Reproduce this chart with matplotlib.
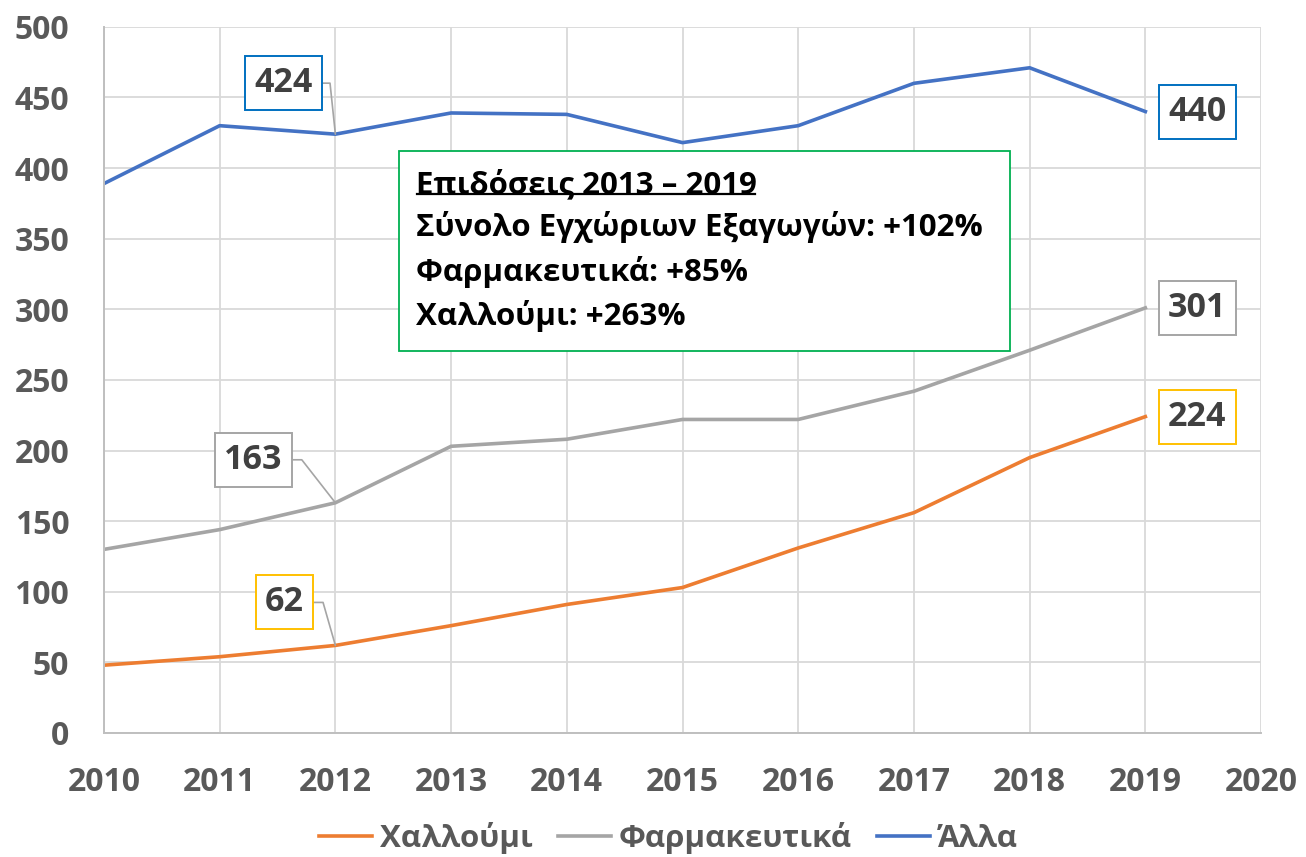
import matplotlib
matplotlib.use("Agg")
import matplotlib.pyplot as plt
from matplotlib.patches import Rectangle
from matplotlib.path import Path

plt.rcParams['font.family'] = ['Open Sans', 'DejaVu Sans']
plt.rcParams['font.weight'] = 'bold'

years = [2010, 2011, 2012, 2013, 2014, 2015, 2016, 2017, 2018, 2019]
halloumi = [48, 54, 62, 76, 91, 103, 131, 156, 195, 224]
pharma = [130, 144, 163, 203, 208, 222, 222, 242, 271, 301]
other = [389, 430, 424, 439, 438, 418, 430, 460, 471, 440]

series_names = ['Χαλλούμι', 'Φαρμακευτικά', 'Άλλα']
colors = ['#ED7D31', '#A5A5A5', '#4472C4']
box_colors = ['#FFC000', '#A5A5A5', '#0070C0']

info_lines = ['Επιδόσεις 2013 – 2019',
              'Σύνολο Εγχώριων Εξαγωγών: +102%',
              'Φαρμακευτικά: +85%',
              'Χαλλούμι: +263%']

fig = plt.figure(figsize=(13.06, 8.57), dpi=100)
ax = fig.add_axes([0.0796, 0.1447, 0.886, 0.824])

all_series = [halloumi, pharma, other]
for vals, name, c in zip(all_series, series_names, colors):
    ax.plot(years, vals, color=c, lw=2.6, label=name, solid_joinstyle='round')

ax.set_xlim(2010, 2020)
ax.set_ylim(0, 500)
ax.set_xticks(range(2010, 2021))
ax.set_yticks(range(0, 501, 50))
ax.grid(True, color='#D9D9D9', lw=1.3)
ax.set_axisbelow(True)
for side in ['top', 'right']:
    ax.spines[side].set_visible(False)
for side in ['left', 'bottom']:
    ax.spines[side].set_color('#BFBFBF')
    ax.spines[side].set_linewidth(1.4)
ax.tick_params(length=0, labelsize=23, labelcolor='#595959')
ax.tick_params(axis='x', pad=24)
ax.tick_params(axis='y', pad=25)
for lab in ax.get_xticklabels() + ax.get_yticklabels():
    lab.set_fontweight('bold')


# label box: fixed height around the text centre (Excel-like)
def label_box(x0, y0, width, height, mutation_size):
    cx, cy = x0 + width / 2, y0 + height / 2
    w, h = width + 0.55 * mutation_size, 54
    return Path([(cx - w / 2, cy - h / 2), (cx + w / 2, cy - h / 2), (cx + w / 2, cy + h / 2),
                 (cx - w / 2, cy + h / 2), (cx - w / 2, cy - h / 2)], closed=True)


def label(vals, i, ec, off, angB, leader=True):
    kw = dict(xy=(years[i], vals[i]), xytext=off, textcoords='offset pixels',
              ha='center', va='center', fontsize=24.5, fontweight='bold', color='#404040',
              bbox=dict(boxstyle=label_box, fc='white', ec=ec, lw=1.4))
    if leader:
        kw['arrowprops'] = dict(arrowstyle='-', color='#A5A5A5', lw=1.2, shrinkA=0, shrinkB=0,
                                connectionstyle='angle,angleA=0,angleB=%d,rad=0' % angB)
    ax.annotate(str(vals[i]), **kw)


label(other, 2, box_colors[2], (-52, 51), 96)
label(pharma, 2, box_colors[1], (-82, 43), 128)
label(halloumi, 2, box_colors[0], (-51, 43), 106)
label(other, 9, box_colors[2], (52, 0), 0, leader=False)
label(pharma, 9, box_colors[1], (52, 0), 0, leader=False)
label(halloumi, 9, box_colors[0], (52, 0), 0, leader=False)

# info box
ax.add_patch(Rectangle((0.255, 0.541), 0.528, 0.283, transform=ax.transAxes,
                       fill=True, fc='white', ec='#00B050', lw=1.3, zorder=4))
ys = [0.776, 0.716, 0.653, 0.590]
texts = []
for t, yy in zip(info_lines, ys):
    texts.append(ax.text(0.2697, yy, t, transform=ax.transAxes, fontsize=22.5,
                         fontweight='bold', color='black', va='center', zorder=5))

fig.canvas.draw()
bb = texts[0].get_window_extent().transformed(ax.transAxes.inverted())
ax.plot([bb.x0 + 0.001, bb.x1 - 0.002], [bb.y0 + 0.009, bb.y0 + 0.009], transform=ax.transAxes,
        color='black', lw=1.6, zorder=5)

fig.legend(loc='center', ncol=3, frameon=False,
           bbox_to_anchor=(0.512, 0.022), handlelength=1.7, handletextpad=0.25,
           columnspacing=0.8, labelcolor='#595959', prop={'weight': 'bold', 'size': 22.5})

fig.savefig('out.png', dpi=100)
